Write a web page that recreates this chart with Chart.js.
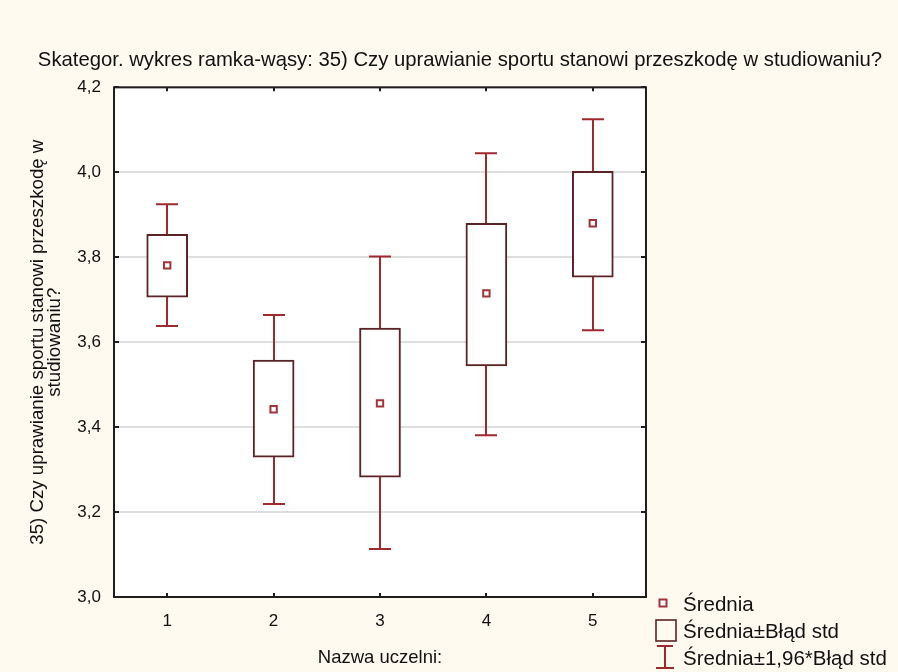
<!DOCTYPE html>
<html>
<head>
<meta charset="utf-8">
<script src="https://cdn.jsdelivr.net/npm/chart.js@4.4.1/dist/chart.umd.min.js"></script>
<style>
  html, body { margin: 0; padding: 0; background: #fefaf0; }
  #wrap { position: relative; width: 898px; height: 672px; }
  #legend { position: absolute; left: 652px; top: 590px; font-family: "Liberation Sans", Arial, sans-serif; font-size: 20.5px; color: #111; }
  .row { position: relative; height: 27px; line-height: 27px; padding-left: 31px; white-space: nowrap; }
  .row svg { position: absolute; left: 0; top: 0; }
</style>
</head>
<body>
<div id="wrap">
  <canvas id="chBox" width="898" height="672"></canvas>
  <div id="legend">
    <div class="row"><svg width="28" height="27"><rect x="7.5" y="9.5" width="7" height="7" fill="#fff" stroke="#a0343a" stroke-width="2"/></svg>Średnia</div>
    <div class="row"><svg width="28" height="27"><rect x="4" y="3" width="20" height="21" fill="none" stroke="#5a2326" stroke-width="1.6"/></svg>Średnia±Błąd std</div>
    <div class="row"><svg width="28" height="27"><path d="M5 2 H21 M13 2 V24 M4 24 H22" stroke="#9e2a30" stroke-width="2" fill="none"/></svg>Średnia±1,96*Błąd std</div>
  </div>
</div>
<script>
const uczelnie = [1, 2, 3, 4, 5];
const srednia = [3.781, 3.442, 3.456, 3.715, 3.880];
const bladDol = [3.706, 3.329, 3.282, 3.544, 3.753];
const bladGora = [3.854, 3.558, 3.633, 3.880, 4.002];
const ciDol = [3.638, 3.219, 3.113, 3.381, 3.628];
const ciGora = [3.925, 3.664, 3.802, 4.045, 4.125];
const yTicks = [3.0, 3.2, 3.4, 3.6, 3.8, 4.0, 4.2];

const fontName = "'Liberation Sans', Arial, sans-serif";
const whiskerColor = '#9e2a30';
const boxColor = '#5a2326';
const meanColor = '#a0343a';

// tlo pola wykresu + ramka i kreski do srodka
const plotFrame = {
  id: 'plotFrame',
  beforeDraw(chart) {
    const a = chart.chartArea, ctx = chart.ctx;
    ctx.save();
    ctx.fillStyle = '#ffffff';
    ctx.fillRect(a.left, a.top, a.right - a.left, a.bottom - a.top);
    ctx.restore();
  },
  beforeDatasetsDraw(chart) {
    // wasy pod ramkami
    const ctx = chart.ctx, x = chart.scales.x, y = chart.scales.y;
    ctx.save();
    ctx.strokeStyle = whiskerColor;
    ctx.lineWidth = 2;
    for (let i = 0; i < uczelnie.length; i++) {
      const px = Math.round(x.getPixelForValue(uczelnie[i]));
      const top = y.getPixelForValue(ciGora[i]);
      const bot = y.getPixelForValue(ciDol[i]);
      ctx.beginPath();
      ctx.moveTo(px, top); ctx.lineTo(px, bot);
      ctx.moveTo(px - 11, top); ctx.lineTo(px + 11, top);
      ctx.moveTo(px - 11, bot); ctx.lineTo(px + 11, bot);
      ctx.stroke();
    }
    ctx.restore();
  },
  afterDraw(chart) {
    const a = chart.chartArea, ctx = chart.ctx, x = chart.scales.x, y = chart.scales.y;
    ctx.save();
    ctx.strokeStyle = '#1e1e1e';
    ctx.lineWidth = 2;
    ctx.strokeRect(a.left, a.top, a.right - a.left, a.bottom - a.top);
    ctx.beginPath();
    yTicks.forEach(v => {
      const py = Math.round(y.getPixelForValue(v));
      ctx.moveTo(a.left, py); ctx.lineTo(a.left + 5, py);
      ctx.moveTo(a.right - 5, py); ctx.lineTo(a.right, py);
    });
    uczelnie.forEach(v => {
      const px = Math.round(x.getPixelForValue(v));
      ctx.moveTo(px, a.top); ctx.lineTo(px, a.top + 4);
      ctx.moveTo(px, a.bottom - 4); ctx.lineTo(px, a.bottom);
    });
    ctx.stroke();
    ctx.restore();
  }
};

const chBox = document.getElementById('chBox');
new Chart(chBox, {
  type: 'bar',
  data: {
    datasets: [
      {
        label: 'Średnia±Błąd std',
        data: uczelnie.map((u, i) => ({ x: u, y: [bladDol[i], bladGora[i]] })),
        backgroundColor: '#ffffff',
        borderColor: boxColor,
        borderWidth: 2,
        borderSkipped: false,
        barThickness: 41,
        order: 2
      },
      {
        type: 'scatter',
        label: 'Średnia',
        data: uczelnie.map((u, i) => ({ x: u, y: srednia[i] })),
        pointStyle: 'rect',
        pointRadius: 4.5,
        borderColor: meanColor,
        backgroundColor: '#ffffff',
        borderWidth: 2,
        order: 1
      }
    ]
  },
  plugins: [plotFrame],
  options: {
    responsive: false,
    animation: false,
    layout: { padding: { left: 22, right: 0, top: 0, bottom: 0 } },
    plugins: {
      legend: { display: false },
      tooltip: { enabled: false },
      title: {
        display: true,
        text: 'Skategor. wykres ramka-wąsy: 35) Czy uprawianie sportu stanowi przeszkodę w studiowaniu?',
        color: '#111',
        font: { family: fontName, size: 20.3, weight: 'normal', lineHeight: 1.2 },
        padding: { top: 48, bottom: 15 }
      }
    },
    scales: {
      x: {
        type: 'linear',
        min: 0.5,
        max: 5.5,
        offset: false,
        afterBuildTicks(scale) { scale.ticks = uczelnie.map(v => ({ value: v })); },
        afterFit(scale) { scale.height = 75; },
        grid: { display: false },
        border: { display: false },
        ticks: {
          padding: 6,
          color: '#111',
          font: { family: fontName, size: 17 },
          callback: v => String(v)
        },
        title: {
          display: true,
          text: 'Nazwa uczelni:',
          color: '#111',
          font: { family: fontName, size: 18.5 },
          padding: { top: 0, bottom: 3 }
        }
      },
      y: {
        min: 3.0,
        max: 4.2,
        afterBuildTicks(scale) { scale.ticks = yTicks.map(v => ({ value: v })); },
        afterFit(scale) { scale.width = 92; },
        grid: { color: '#dedede', lineWidth: 2, drawTicks: false },
        border: { display: false },
        ticks: {
          padding: 13,
          color: '#111',
          font: { family: fontName, size: 17 },
          callback: v => v.toFixed(1).replace('.', ',')
        },
        title: {
          display: true,
          text: ['35) Czy uprawianie sportu stanowi przeszkodę w', 'studiowaniu?'],
          color: '#111',
          font: { family: fontName, size: 18.7, lineHeight: 0.91 },
          padding: { top: 7.5, bottom: 0 }
        }
      },
      // puste miejsce po prawej na legende
      yPrawa: {
        position: 'right',
        min: 3.0,
        max: 4.2,
        afterFit(scale) { scale.width = 252; },
        grid: { display: false },
        border: { display: false },
        ticks: { display: false }
      }
    }
  }
});
</script>
</body>
</html>
